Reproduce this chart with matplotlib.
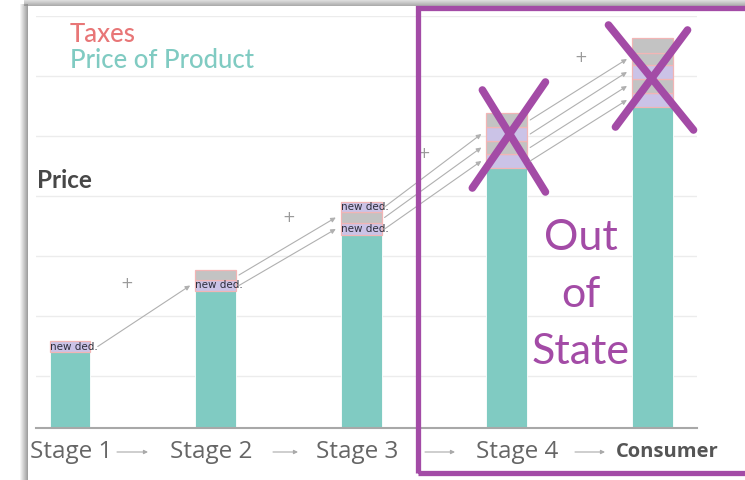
import matplotlib.pyplot as plt
import matplotlib.transforms as mtransforms
from matplotlib.patches import Rectangle

# Price build-up of a product through each stage of the supply chain
stages = ['Stage 1', 'Stage 2', 'Stage 3', 'Stage 4', 'Consumer']
product_price = [7.6, 13.7, 19.3, 26.0, 32.1]

# Tax layers stacked on top of the product price (bottom to top)
tax_layers = [
    [1.1],
    [1.1, 1.0],
    [1.2, 1.1, 1.0],
    [1.4, 1.3, 1.4, 1.4],
    [1.4, 1.4, 1.4, 1.2, 1.5],
]
tax_kind = [
    ['ded'],
    ['ded', 'tax'],
    ['ded', 'tax', 'ded'],
    ['ded', 'tax', 'ded', 'tax'],
    ['ded', 'tax', 'ded', 'tax', 'tax'],
]
# which layers carry the "new ded." label
ded_labels = [[0], [0], [0, 2], [], []]

grid_values = [5.2, 11.2, 17.2, 23.2, 29.2, 35.2, 41.2]
plus_marks = [(0.39, 14.4), (1.505, 21.1), (2.43, 27.5), (3.51, 37.1)]

teal = '#80cbc2'
lavender = '#cbc3e7'
gray = '#c3c3c3'
pink = '#f2b5b5'
purple = '#a34ba6'

W, H = 745, 480
fig = plt.figure(figsize=(W / 100, H / 100), dpi=100)
fig.patch.set_facecolor('white')

def fx(px):
    return px / W

def fy(py):
    return 1 - py / H

# drop shadow along the left and top edges of the slide
for i in range(8):
    a = 0.08 + 0.09 * i
    fig.add_artist(Rectangle((fx(20 + i), 0), fx(1), fy(4), transform=fig.transFigure,
                             facecolor='#7a7a7a', alpha=a, edgecolor='none'))
for i in range(6):
    a = 0.3 + 0.08 * i
    fig.add_artist(Rectangle((fx(24), fy(i + 1)), 1, 1 / H, transform=fig.transFigure,
                             facecolor='#8a8a8a', alpha=a, edgecolor='none'))

ax = fig.add_axes([fx(36), fy(428), fx(697) - fx(36), fy(16) - fy(428)])
ax.set_xlim(-0.234, 4.306)
ax.set_ylim(0, 41.2)

ax.set_yticks(grid_values)
ax.grid(axis='y', color='#ececec', linewidth=1)
ax.set_axisbelow(True)
ax.tick_params(left=False, bottom=False, labelleft=False, labelbottom=False)
for s in ['top', 'right', 'left']:
    ax.spines[s].set_visible(False)
ax.spines['bottom'].set_color('#a8a8a8')
ax.spines['bottom'].set_linewidth(1.5)

bw = 0.28
centers = {}
for i, stage in enumerate(stages):
    ax.bar(i, product_price[i], width=bw, color=teal, edgecolor='white', linewidth=0.6)
    bottom = product_price[i]
    centers[i] = []
    for j, h in enumerate(tax_layers[i]):
        c = lavender if tax_kind[i][j] == 'ded' else gray
        ax.bar(i, h, width=bw, bottom=bottom, color=c, edgecolor=pink, linewidth=0.9)
        centers[i].append(bottom + h / 2)
        if j in ded_labels[i]:
            ax.text(i - bw / 2, bottom + h / 2, 'new ded.', fontsize=7.5, color='#2e2e3c',
                    ha='left', va='center')
        bottom += h

# arrows carrying each tax layer forward to the next stage
arrow_style = dict(arrowstyle='-|>', color='#b0b0b0', lw=0.8, mutation_scale=7,
                   shrinkA=0, shrinkB=0)
for i in range(len(stages) - 1):
    for j, yc in enumerate(centers[i]):
        x0 = i + 0.19 if i == 0 else i + bw / 2 + 0.02
        ax.annotate('', xy=(i + 1 - bw / 2 - 0.035, centers[i + 1][j]), xytext=(x0, yc),
                    arrowprops=arrow_style)

for x, y in plus_marks:
    ax.text(x, y, '+', fontsize=11, color='#9a9a9a', ha='center', va='center')

# crossed-out bars for out-of-state sales
crosses = [
    [(2.832, 33.8), (3.265, 23.6)], [(3.265, 34.6), (2.763, 24.0)],
    [(3.698, 40.3), (4.282, 29.8)], [(4.241, 39.8), (3.746, 30.1)],
]
for (x0, y0), (x1, y1) in crosses:
    ax.plot([x0, x1], [y0, y1], color=purple, lw=5.5, solid_capstyle='round', clip_on=False)

ax.text(3.505, 13.3, 'Out\nof\nState', fontsize=31, color=purple, ha='center', va='center',
        linespacing=1.62, family='Lato')

# legend and axis title
ax.text(0.0, 39.3, 'Taxes', fontsize=18.5, color='#e87677', ha='left', va='center',
        family='Lato', fontweight='medium')
ax.text(0.0, 36.8, 'Price of Product', fontsize=18.5, color=teal, ha='left', va='center',
        family='Lato', fontweight='medium')
ax.text(0.002, 24.8, 'Price', fontsize=17.5, color='#474747', ha='left', va='center',
        family='Lato', fontweight='bold', transform=mtransforms.blended_transform_factory(
            ax.transAxes, ax.transData))

# stage labels along the bottom with flow arrows
trans = mtransforms.blended_transform_factory(ax.transData, fig.transFigure)
label_x = [0.01, 0.97, 1.97, 3.07, 4.1]
for i, stage in enumerate(stages):
    if stage == 'Consumer':
        ax.text(label_x[i], fy(452), stage, fontsize=14.5, color='#555555', ha='center',
                va='center', transform=trans, family='Open Sans', fontweight='bold')
    else:
        ax.text(label_x[i], fy(451.5), stage, fontsize=17.5, color='#666666', ha='center',
                va='center', transform=trans, family='Open Sans')
flow_arrows = [(117, 148), (273, 298), (425, 455), (575, 605)]
for x0, x1 in flow_arrows:
    ax.annotate('', xy=(fx(x1), fy(452)), xytext=(fx(x0), fy(452)), xycoords='figure fraction',
                textcoords='figure fraction',
                arrowprops=dict(arrowstyle='-|>', color='#aaaaaa', lw=0.8, mutation_scale=6,
                                shrinkA=0, shrinkB=0))

# out-of-state frame
fig.add_artist(Rectangle((fx(418), fy(473)), fx(760) - fx(418), fy(8) - fy(473),
                         transform=fig.transFigure, facecolor='none', edgecolor=purple,
                         linewidth=3.8))

fig.savefig('out.png', dpi=100)
